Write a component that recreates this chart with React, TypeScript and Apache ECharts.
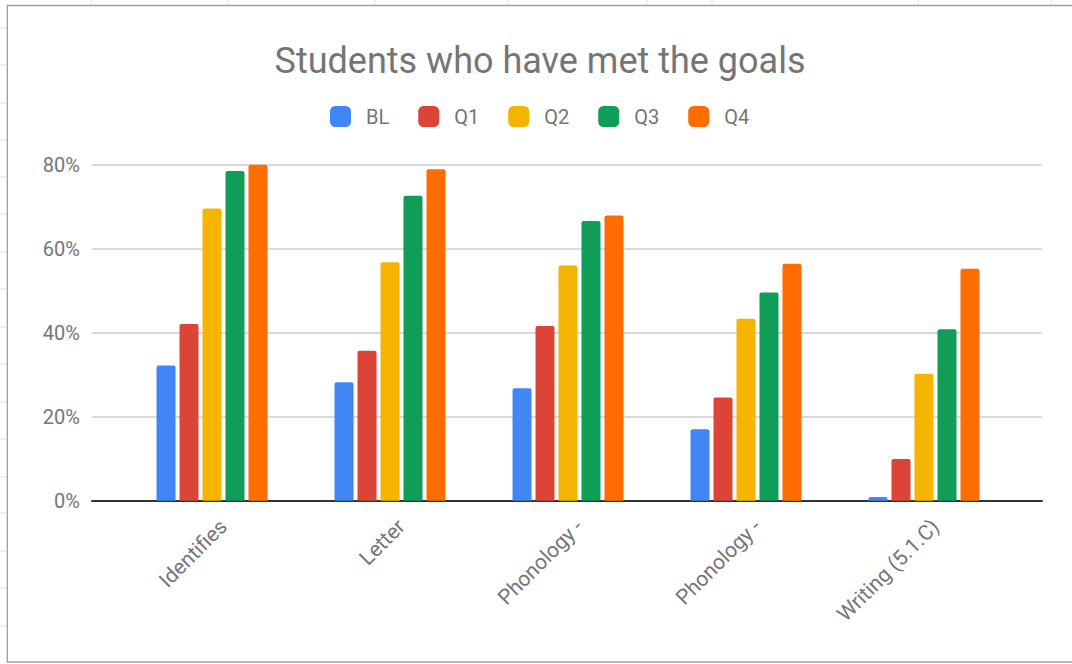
import React, { useEffect, useRef } from "react";
import * as echarts from "echarts";

const categories = ["Identifies", "Letter", "Phonology -", "Phonology -", "Writing (5.1.C)"];
const seriesNames = ["BL", "Q1", "Q2", "Q3", "Q4"];
const blValues = [32.2, 28.2, 26.8, 17.0, 0.9];
const q1Values = [42.1, 35.7, 41.6, 24.6, 9.9];
const q2Values = [69.6, 56.8, 56.0, 43.3, 30.2];
const q3Values = [78.5, 72.6, 66.6, 49.6, 40.8];
const q4Values = [80.5, 78.9, 67.9, 56.4, 55.2];
const seriesColors = ["#4285f4", "#db4437", "#f4b400", "#0f9d58", "#ff6d00"];
const yMin = 0;
const yMax = 80;
const yStep = 20;

const allValues = [blValues, q1Values, q2Values, q3Values, q4Values];

const FONT = "Roboto, 'Noto Sans', sans-serif";
const TEXT = "#757575";

export default function App() {
  const ref = useRef<HTMLDivElement>(null);
  useEffect(() => {
    if (!ref.current) return;
    const chart = echarts.init(ref.current, undefined, { renderer: "svg" });
    const sheetCols = [91, 228, 375, 508, 647, 712, 918, 1051];
    const sheetRows = [28, 65, 103, 140, 177, 214, 252, 289, 327, 364, 402, 439, 477, 513, 551, 588, 626];
    const graphic: any[] = [];
    sheetCols.forEach((x) =>
      graphic.push({ type: "line", silent: true, z: -10, shape: { x1: x, y1: 0, x2: x, y2: 6 }, style: { stroke: "#e2e2e2", lineWidth: 1 } })
    );
    sheetRows.forEach((y) =>
      graphic.push({ type: "line", silent: true, z: -10, shape: { x1: 0, y1: y, x2: 7, y2: y }, style: { stroke: "#e2e2e2", lineWidth: 1 } })
    );
    graphic.push({
      type: "rect",
      silent: true,
      z: -5,
      shape: { x: 7.3, y: 5.5, width: 1070, height: 656.5 },
      style: { fill: "#ffffff", stroke: "#9e9e9e", lineWidth: 1.3 },
    });

    const gridTop = 164.7;
    const gridBottom = 664 - 500.7;

    chart.setOption({
      animation: false,
      backgroundColor: "#ffffff",
      textStyle: { fontFamily: FONT },
      graphic,
      title: {
        text: "Students who have met the goals",
        left: 540,
        textAlign: "center",
        top: 43,
        padding: 0,
        textStyle: { fontFamily: FONT, fontSize: 36, fontWeight: "normal", color: TEXT },
      },
      legend: {
        data: seriesNames,
        left: 330,
        top: 106,
        padding: 0,
        itemWidth: 21,
        itemHeight: 21,
        itemGap: 29,
        icon: "roundRect",
        textStyle: { fontFamily: FONT, fontSize: 20, color: TEXT, padding: [0, 0, 0, 10] },
      },
      grid: [
        { left: 92, right: 30, top: gridTop, bottom: gridBottom },
        { left: 123, right: 59, top: gridTop, bottom: gridBottom },
        { left: 127, right: 55, top: gridTop, bottom: gridBottom },
      ],
      xAxis: [
        {
          gridIndex: 0,
          type: "value",
          min: 0,
          max: 1,
          axisLine: { show: true, lineStyle: { color: "#333333", width: 2 } },
          axisTick: { show: false },
          axisLabel: { show: false },
          splitLine: { show: false },
        },
        {
          gridIndex: 1,
          type: "category",
          data: categories,
          axisLine: { show: false },
          axisTick: { show: false },
          axisLabel: { show: false },
        },
        {
          gridIndex: 2,
          type: "category",
          data: categories,
          axisLine: { show: false },
          axisTick: { show: false },
          axisLabel: {
            interval: 0,
            rotate: 45,
            align: "right",
            verticalAlign: "top",
            margin: 15,
            fontFamily: FONT,
            fontSize: 21,
            color: TEXT,
          },
        },
      ],
      yAxis: [
        {
          gridIndex: 0,
          type: "value",
          min: yMin,
          max: yMax,
          interval: yStep,
          axisLine: { show: false },
          axisTick: { show: false },
          axisLabel: { formatter: "{value}%", fontFamily: FONT, fontSize: 20, color: TEXT, margin: 12 },
          splitLine: { lineStyle: { color: "#cccccc", width: 1.5 } },
        },
        { gridIndex: 1, type: "value", min: yMin, max: yMax, show: false },
        { gridIndex: 2, type: "value", min: yMin, max: yMax, show: false },
      ],
      series: seriesNames.map((name, i) => ({
        name,
        type: "bar",
        xAxisIndex: 1,
        yAxisIndex: 1,
        data: allValues[i],
        barWidth: 19,
        barGap: "21%",
        clip: true,
        itemStyle: { color: seriesColors[i], borderRadius: [2, 2, 0, 0] },
        z: 3,
      })),
    });
    return () => chart.dispose();
  }, []);
  return (
    <div
      ref={ref}
      style={{ position: "fixed", left: 0, top: 0, width: 1072, height: 664, background: "#fff" }}
    />
  );
}
